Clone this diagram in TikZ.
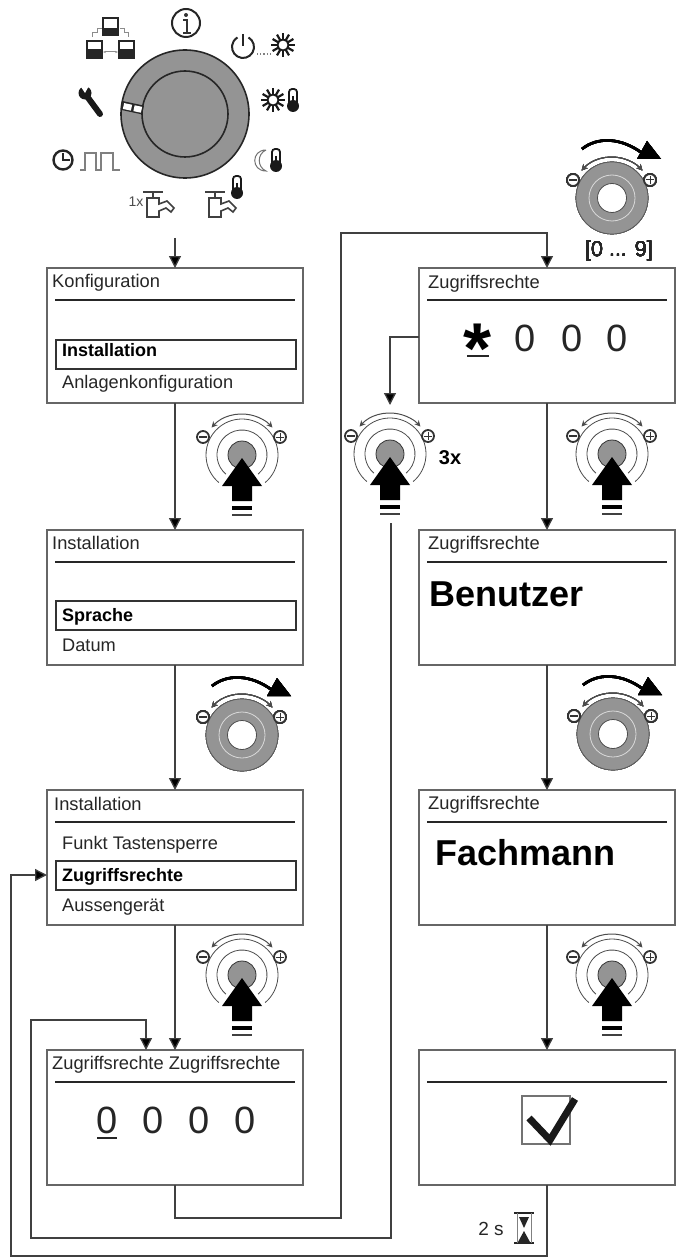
\documentclass[tikz,border=0pt]{standalone}
\usepackage{fontspec}
\setmainfont{Liberation Sans}
\usetikzlibrary{arrows.meta}

\definecolor{knobgray}{gray}{0.58}
\definecolor{framegray}{gray}{0.40}

\tikzset{
	menubox/.style={draw=framegray,line width=1.8pt,fill=white,anchor=north west,minimum width=256pt,minimum height=135pt,inner sep=0pt,outer sep=0pt},
	selbox/.style={draw=black!80,line width=1.3pt,anchor=north west,minimum width=240pt,minimum height=29pt,inner sep=0pt,outer sep=0pt},
	title/.style={anchor=base west,inner sep=0pt,text=black!85,font=\fontsize{18.3}{20}\selectfont},
	item/.style={anchor=base west,inner sep=0pt,text=black!85,font=\fontsize{18.2}{20}\selectfont},
	boldtext/.style={anchor=base west,inner sep=0pt,font=\bfseries\fontsize{18}{20}\selectfont},
	bigword/.style={anchor=base west,inner sep=0pt,font=\bfseries\fontsize{36}{40}\selectfont},
	digit/.style={anchor=base,inner sep=0pt,text=black!85,font=\fontsize{38}{40}\selectfont},
	conn/.style={draw=black!75,line width=1.3pt,-{Triangle[length=12pt,width=12pt,fill=black]}},
	ruleline/.style={line width=1.2pt,black!85},
	smallarc/.style={line width=1pt,black!70,{Stealth[length=6pt,width=6pt]}-{Stealth[length=6pt,width=6pt]}},
}

% minus and plus buttons with the small arc
\newcommand{\knobtop}{
	\draw[smallarc] (138:41pt) arc[start angle=138,end angle=42,radius=41pt];
	\draw[line width=1.8pt,black!80,fill=white] (-39,-18) circle[radius=6pt];
	\draw[line width=1.5pt,black!80] (-43,-18) -- (-35,-18);
	\draw[line width=1.8pt,black!80,fill=white] (38,-18) circle[radius=6pt];
	\draw[line width=1pt,black!80] (34,-18) -- (42,-18) (38,-22) -- (38,-14);
}

\newcommand{\pushknob}[2]{
	\begin{scope}[shift={(#1,#2)}]
		\draw[line width=0.8pt,black!70] (-50:36pt) arc[start angle=-50,end angle=230,radius=36pt];
		\draw[line width=0.8pt,black!70] (-50:25pt) arc[start angle=-50,end angle=230,radius=25pt];
		\draw[line width=0.8pt,black!80,fill=knobgray] (0,0) circle[radius=14pt];
		\knobtop
		\fill[black] (0,3) -- (20,31) -- (10,31) -- (10,46) -- (-10,46) -- (-10,31) -- (-20,31) -- cycle;
		\fill[black] (-10,51) rectangle (10,55);
		\fill[black!75] (-10,59) rectangle (10,61);
	\end{scope}
}

\newcommand{\turnknob}[2]{
	\begin{scope}[shift={(#1,#2)}]
		\fill[knobgray] (0,0) circle[radius=36pt];
		\draw[line width=0.7pt,black!65] (0,0) circle[radius=36pt];
		\draw[line width=0.8pt,white!85!black] (0,0) circle[radius=23pt];
		\draw[line width=0.8pt,black!70,fill=white] (0,0) circle[radius=14.5pt];
		\knobtop
		\draw[line width=2.6pt,black] (-30,-49) .. controls (-15,-61) and (8,-61) .. (30,-45);
		\fill[black] (35,-57) -- (25,-39) -- (49,-39) -- cycle;
	\end{scope}
}

\newcommand{\sunicon}[2]{
	\begin{scope}[shift={(#1,#2)}]
		\foreach \a in {0,30,...,330}
			\draw[line width=2.2pt,black!90] (\a:5pt) -- (\a:12pt);
		\draw[line width=1.8pt,black!90,fill=white] (0,0) circle[radius=5.5pt];
	\end{scope}
}

\newcommand{\thermicon}[2]{
	\begin{scope}[shift={(#1,#2)}]
		\draw[line width=1.8pt,black!90,fill=white,rounded corners=3pt] (-4,5) -- (-4,-11) -- (4,-11) -- (4,5);
		\fill[black!90] (0,6) circle[radius=6pt];
		\draw[line width=2pt,black!90] (0,-4) -- (0,5);
	\end{scope}
}

\newcommand{\tapicon}[2]{
	\begin{scope}[shift={(#1,#2)}]
		\draw[line width=1.6pt,black!75] (-10,-12) -- (10,-12) (0,-12) -- (0,-6);
		\draw[line width=1.6pt,black!75] (-6,-6) -- (6,-6) -- (6,0) -- (14,-3) -- (21,4) -- (18,8) -- (13,4) -- (6,7) -- (6,13) -- (-6,13) -- cycle;
	\end{scope}
}

\begin{document}
\begin{tikzpicture}[x=1pt,y=-1pt]
	\useasboundingbox (0,0) rectangle (679,1257);

	% menu boxes with their head lines
	\foreach \n/\x/\y in {boxA/47/268,boxB/47/530,boxC/47/790,boxD/47/1050,boxE/419/268,boxF/419/530,boxG/419/790,boxH/419/1050}{
		\node[menubox] (\n) at (\x,\y) {};
		\draw[ruleline] ([xshift=8pt,yshift=-32pt]\n.north west) -- ([xshift=-8pt,yshift=-32pt]\n.north east);
	}

	\node[title] (titleA) at (52,287) {Konfiguration};
	\node[selbox] (selA) at (56,340) {};
	\node[boldtext] (selAtext) at (62,356) {Installation};
	\node[item] (itemA) at (62,388) {Anlagenkonfiguration};

	\node[title] (titleB) at (52,549) {Installation};
	\node[selbox] (selB) at (56,601) {};
	\node[boldtext] (selBtext) at (62,621) {Sprache};
	\node[item] (itemB) at (62,651) {Datum};

	\node[title] (titleC) at (54,810) {Installation};
	\node[item] (itemC) at (62,849) {Funkt Tastensperre};
	\node[selbox] (selC) at (56,861) {};
	\node[boldtext] (selCtext) at (62,881) {Zugriffsrechte};
	\node[item] (itemD) at (62,911) {Aussengerät};

	\node[title] (titleD) at (52,1069) {Zugriffsrechte Zugriffsrechte};
	\node[digit] (digA) at (107,1133) {0};
	\node[digit] (digB) at (153,1133) {0};
	\node[digit] (digC) at (199,1133) {0};
	\node[digit] (digD) at (245,1133) {0};
	\draw[line width=1.8pt,black!85] (97,1138) -- (117,1138);

	\node[title] (titleE) at (428,288) {Zugriffsrechte};
	\node[anchor=center,inner sep=0pt,font=\bfseries\fontsize{72}{72}\selectfont] (star) at (478,349) {*};
	\node[digit] (digE) at (525,351) {0};
	\node[digit] (digF) at (572,351) {0};
	\node[digit] (digG) at (617,351) {0};
	\draw[line width=1.8pt,black!85] (467,356) -- (489,356);

	\node[title] (titleF) at (428,549) {Zugriffsrechte};
	\node[bigword] (wordA) at (429,606) {Benutzer};

	\node[title] (titleG) at (428,809) {Zugriffsrechte};
	\node[bigword] (wordB) at (435,865) {Fachmann};

	% check mark
	\draw[line width=1.2pt,black!55] (522,1096) rectangle (570,1144);
	\draw[line width=7pt,black!90,line join=miter] (529,1118) -- (550,1140) -- (575,1099);

	% dial
	\fill[knobgray] (185,114) circle[radius=64pt];
	\draw[line width=1.6pt,black!85] (185,114) circle[radius=64pt];
	\draw[line width=1.6pt,black!85] (185,114) circle[radius=43pt];
	\draw[line width=9pt,black!85] (122,105.5) -- (143,110);
	\draw[line width=6pt,white] (123.5,106) -- (131.5,107.7);
	\draw[line width=6pt,white] (134,108.2) -- (141.5,109.8);

	% icons round the dial
	\draw[line width=2pt,black!85] (186,23) circle[radius=14pt];
	\fill[black!80] (186,15) circle[radius=2pt];
	\draw[line width=1.5pt,black!80] (183,20) -- (187,20) -- (187,32) (183,33) -- (191,33);

	\draw[line width=2pt,black!85] ([shift={(243,47)}]0,0) ++(60:11pt) arc[start angle=60,end angle=-240,radius=11pt];
	\draw[line width=2pt,black!85] (243,34) -- (243,46);
	\draw[line width=1.2pt,black!50,dotted] (257,54) -- (270,54);
	\sunicon{283}{45}
	\sunicon{273}{100}
	\thermicon{293}{100}
	\draw[line width=1pt,black!55] (266,150) .. controls (251,150) and (251,171) .. (266,171) .. controls (257,167) and (257,154) .. (266,150);
	\thermicon{276}{160}
	\thermicon{237}{187}
	\tapicon{153}{204}
	\tapicon{215}{204}
	\node[anchor=center,inner sep=0pt,text=black!70,font=\fontsize{14}{16}\selectfont] (onceA) at (136,202) {1x};

	\draw[line width=2.4pt,black!85] (63,160) circle[radius=9.5pt];
	\draw[line width=1.6pt,black!85] (63,153) -- (63,160) -- (70,160);
	\draw[line width=1.6pt,black!50] (80,170) -- (85,170) -- (85,153) -- (96,153) -- (96,170) -- (101,170) -- (101,153) -- (113,153) -- (113,170) -- (120,170);

	\draw[line width=6pt,black!90,line cap=round] (86,95) -- (100,114);
	\fill[black!90] (85,93) circle[radius=6.5pt];
	\fill[white] (85,93) -- (79,84) -- (90,84) -- cycle;

	\foreach \x/\y/\b in {103/18/28,87/41/49,119/41/49}{
		\draw[line width=1.2pt,black!85] (\x,\y) rectangle ++(15,17);
		\fill[black!85] (\x,\b) rectangle (\x+15,\y+17);
	}
	\draw[line width=1pt,black!45,{Stealth[length=3pt]}-{Stealth[length=3pt]}] (103,52) -- (118,52);
	\draw[line width=1pt,black!45] (92,37) -- (92,33) -- (97,33) -- (97,29) -- (102,29);
	\draw[line width=1pt,black!45] (120,29) -- (124,29) -- (124,33) -- (128,33) -- (128,37);

	% knobs
	\foreach \x/\y in {242/455,390/454,612/454,612/975,242/975}
		\pushknob{\x}{\y}
	\foreach \x/\y in {612/198,242/735,613/734}
		\turnknob{\x}{\y}
	\node[anchor=center,inner sep=0pt,text=black!85,font=\fontsize{21.5}{24}\selectfont] (range) at (619,251) {[0 ... 9]};
	\node[anchor=center,inner sep=0pt,font=\bfseries\fontsize{20}{24}\selectfont] (times) at (450,458) {3x};

	% time label with hourglass
	\node[anchor=center,inner sep=0pt,text=black!85,font=\fontsize{19}{22}\selectfont] (waittext) at (491,1229) {2 s};
	\draw[line width=2.4pt,black!85] (514,1213) -- (534,1213) (514,1243) -- (534,1243);
	\draw[line width=1pt,black!50] (517,1213) -- (517,1243) (531,1213) -- (531,1243);
	\fill[black!85] (519,1217) -- (529,1217) -- (524,1228) -- cycle;
	\fill[black!85] (524,1231) -- (530,1242) -- (518,1242) -- cycle;

	% connectors
	\coordinate (start) at (175,238);
	\coordinate (stepA) at (175,1218);
	\coordinate (stepB) at (341,1218);
	\coordinate (stepC) at (341,233);
	\coordinate (stepD) at (547,233);
	\coordinate (knobEnd) at (390,405);
	\coordinate (knobOut) at (391,523);
	\coordinate (loopA) at (391,1238);
	\coordinate (loopB) at (31,1238);
	\coordinate (loopC) at (31,1020);
	\coordinate (loopD) at (146,1020);
	\coordinate (backA) at (547,1256);
	\coordinate (backB) at (11,1256);
	\coordinate (backC) at (11,875);

	\draw[conn] (start) -- (boxA.north);
	\draw[conn] (boxA.south) -- (boxB.north);
	\draw[conn] (boxB.south) -- (boxC.north);
	\draw[conn] (boxC.south) -- (boxD.north);
	\draw[conn] (boxE.south) -- (boxF.north);
	\draw[conn] (boxF.south) -- (boxG.north);
	\draw[conn] (boxG.south) -- (boxH.north);
	\draw[conn] (boxD.south) -- (stepA) -- (stepB) -- (stepC) -- (stepD) -- (boxE.north);
	\draw[conn] (boxE.west |- 0,337) -| (knobEnd);
	\draw[conn] (knobOut) -- (loopA) -- (loopB) -- (loopC) -- (loopD) -- (loopD |- boxD.north);
	\draw[conn] (boxH.south) -- (backA) -- (backB) -- (backC) -- (backC -| boxC.west);
\end{tikzpicture}
\end{document}
